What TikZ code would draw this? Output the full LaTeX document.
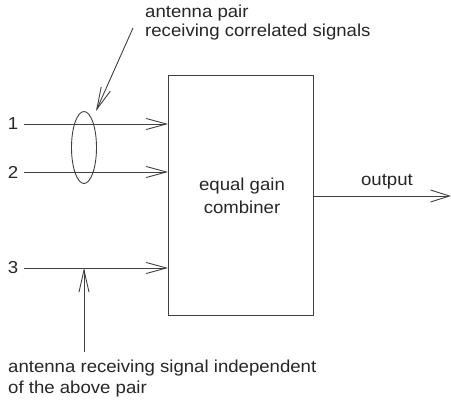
\documentclass[tikz,border=0pt]{standalone}
\usepackage{fontspec}
\setmainfont[FakeStretch=1.075]{Liberation Sans}
\usetikzlibrary{arrows.meta,shapes.geometric}
\begin{document}
\begin{tikzpicture}[x=1pt,y=-1pt,
  every node/.style={font=\fontsize{17.3}{20}\selectfont, inner sep=0pt, text=black!85},
  ln/.style={draw=black!75, line width=0.9pt},
  barb/.style={-{Straight Barb[length=20pt,width=11pt,line width=0.9pt]}},
  lab/.style={anchor=base west, align=left},
  clab/.style={anchor=base}]
\useasboundingbox (0,0) rectangle (451,408);
% combiner box
\node[draw=black!75, line width=0.9pt, minimum width=145pt, minimum height=240pt] (comb) at (240.5,195) {};
\node[clab] (combtxt) at (242,190.7) {equal gain};
\node[clab] (combtxt2) at (242,213) {combiner};
% input labels
\node[anchor=center] (n1) at (13,124) {1};
\node[anchor=center] (n2) at (13,172) {2};
\node[anchor=center] (n3) at (13,268) {3};
\coordinate (s1) at (24,124);
\coordinate (s2) at (24,172);
\coordinate (s3) at (24,268);
\coordinate (e1) at (168,124);
\coordinate (e2) at (168,172);
\coordinate (e3) at (168,268);
\draw[ln,barb] (s1) -- (e1);
\draw[ln,barb] (s2) -- (e2);
\draw[ln,barb] (s3) -- (e3);
% ellipse around pair
\node[draw=black!75, line width=0.9pt, ellipse, minimum width=25pt, minimum height=72pt] (ell) at (84,147.5) {};
% top annotation
\node[lab] (toptxt) at (145,17) {antenna pair};
\node[lab] (toptxt2) at (145,36) {receiving correlated signals};
\coordinate (a0) at (133,28);
\coordinate (a1) at (96,111);
\draw[ln,-{Straight Barb[length=22pt,width=10pt,line width=0.9pt]}] (a0) -- (a1);
% bottom annotation
\coordinate (b0) at (84,352);
\coordinate (b1) at (84,268);
\draw[ln,-{Straight Barb[length=22pt,width=10pt,line width=0.9pt]}] (b0) -- (b1);
\node[lab] (bottxt) at (8,372) {antenna receiving signal independent};
\node[lab] (bottxt2) at (8,393) {of the above pair};
% output
\coordinate (o0) at (313,196);
\coordinate (o1) at (451,196);
\draw[ln,-{Straight Barb[length=19pt,width=12pt,line width=0.9pt]}] (o0) -- (o1);
\node[clab] (outtxt) at (387,185) {output};
\end{tikzpicture}
\end{document}
